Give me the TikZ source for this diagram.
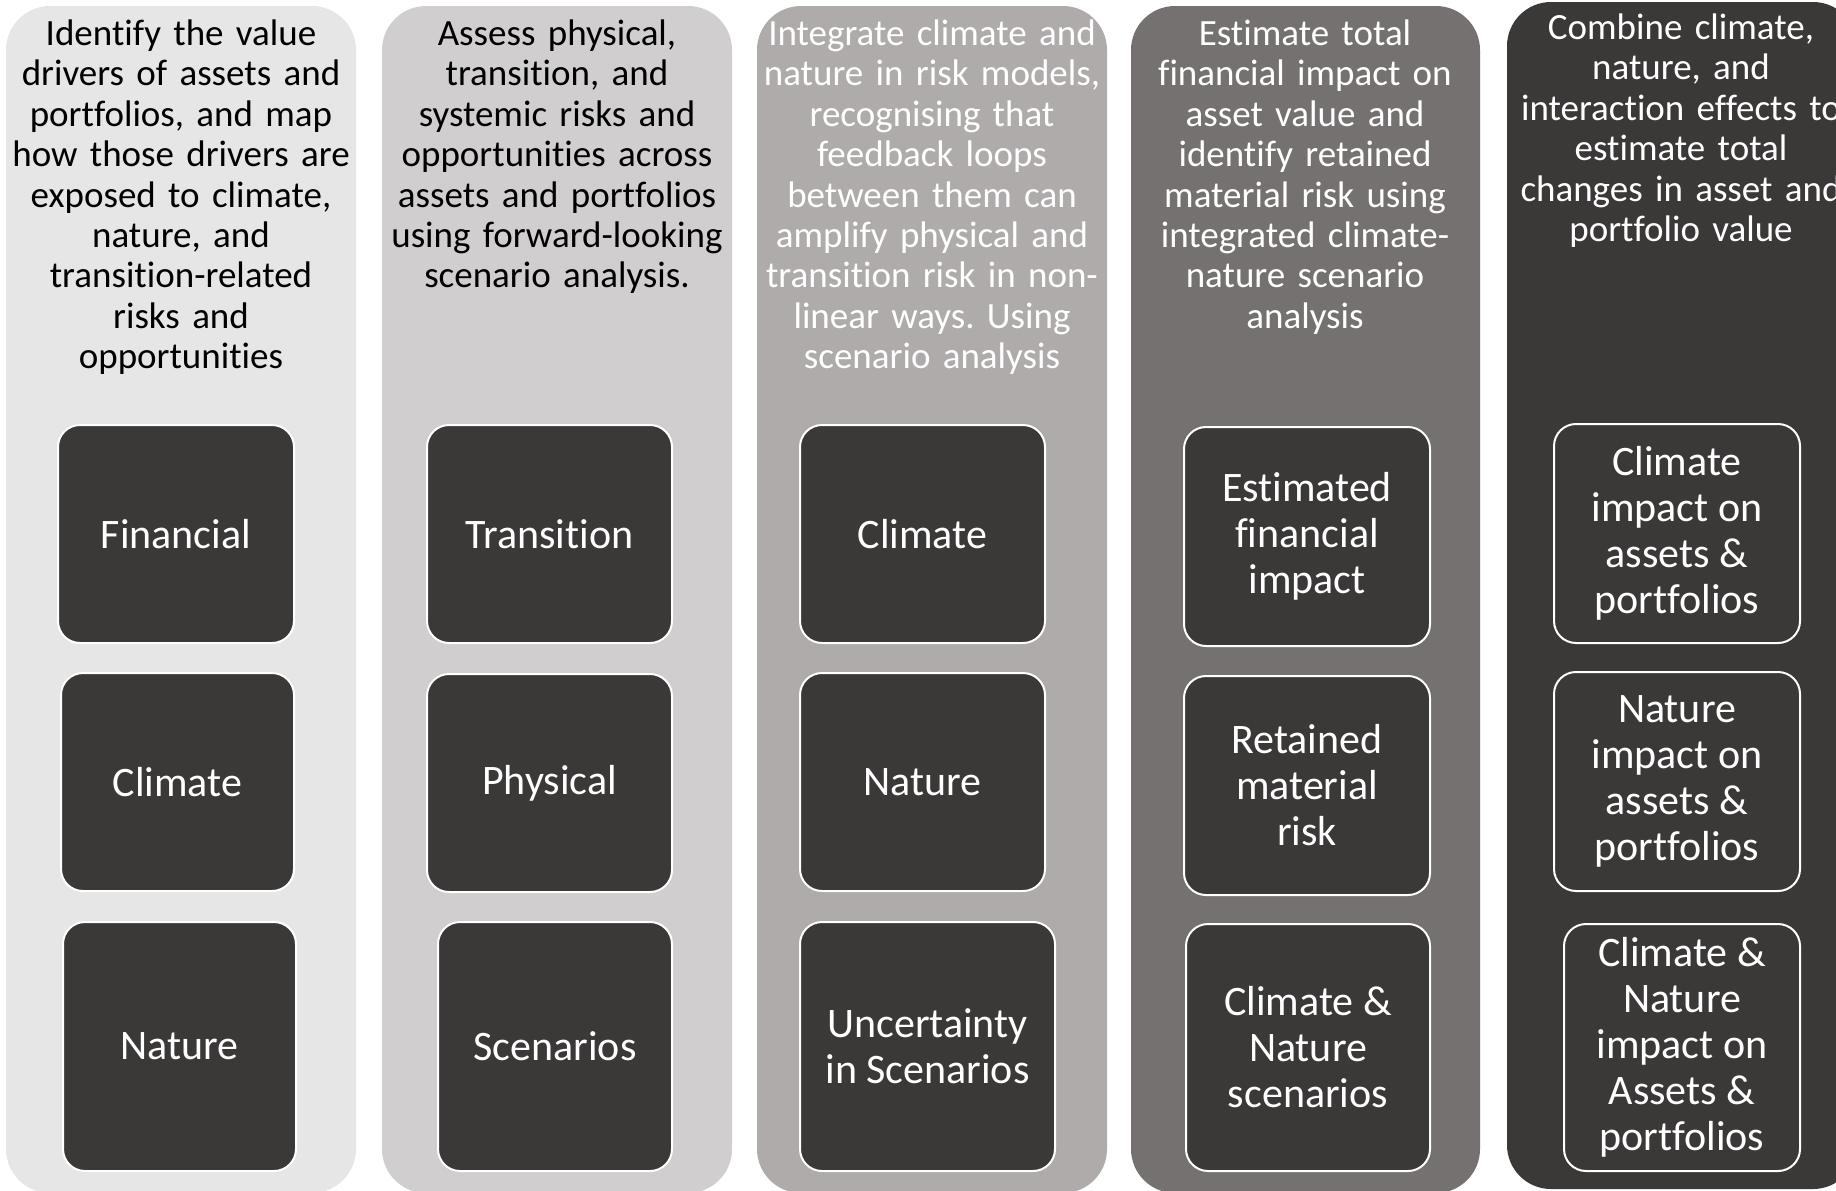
\documentclass[tikz,border=0pt]{standalone}
\usepackage{fontspec}
\setmainfont{Carlito}[Ligatures=NoCommon]
\frenchspacing
\usetikzlibrary{fit}
\definecolor{laneA}{HTML}{E7E6E6}
\definecolor{laneB}{HTML}{D0CECE}
\definecolor{laneC}{HTML}{AFABAB}
\definecolor{laneD}{HTML}{767171}
\definecolor{laneE}{HTML}{3B3838}
\definecolor{tilefill}{HTML}{3B3838}
\begin{document}
\begin{tikzpicture}[x=0.5pt,y=-0.5pt,
  lane/.style={rounded corners=22pt, inner sep=0pt, draw=none},
  head/.style={anchor=north, inner sep=0pt, align=center, text width=174pt,
    font=\fontsize{18.5}{20.2}\selectfont},
  tile/.style={rounded corners=11pt, fill=tilefill, draw=white, line width=1pt,
    inner sep=0pt, text=white, align=center, font=\fontsize{21}{23}\selectfont},
  std/.style={minimum width=122.5pt, minimum height=109pt}]
\useasboundingbox (0,0) rectangle (1836,1190);
\clip (0,0) rectangle (1836,1190);

% five stage lanes
\node[lane, fill=laneA, fit={(6,6) (356,1193)}] (lane1) {};
\node[lane, fill=laneB, fit={(382,6) (732,1193)}] (lane2) {};
\node[lane, fill=laneC, fit={(757,6) (1107,1193)}] (lane3) {};
\node[lane, fill=laneD, fit={(1131,6) (1480,1193)}] (lane4) {};
\node[lane, fill=laneE, fit={(1507,2) (1857,1189)}] (lane5) {};

% lane headings
\node[head, text=black] (h1) at (181,19.5) {Identify the value\\drivers of assets and\\portfolios, and map\\how those drivers are\\exposed to climate,\\nature, and\\transition-related\\risks and\\opportunities};
\node[head, text=black] (h2) at (557,19.5) {Assess physical,\\transition, and\\systemic risks and\\opportunities across\\assets and portfolios\\using forward-looking\\scenario analysis.};
\node[head, text=white] (h3) at (932,19.5) {Integrate climate and\\nature in risk models,\\recognising that\\feedback loops\\between them can\\amplify physical and\\transition risk in non-\\linear ways. Using\\scenario analysis};
\node[head, text=white] (h4) at (1305,19.5) {Estimate total\\financial impact on\\asset value and\\identify retained\\material risk using\\integrated climate-\\nature scenario\\analysis};
\node[head, text=white] (h5) at (1681,13.5) {Combine climate,\\nature, and\\interaction effects to\\estimate total\\changes in asset and\\portfolio value};

% stage 1 tiles
\node[tile, minimum width=118pt, minimum height=109pt] (t11) at (176,534) {Financial};
\node[tile, minimum width=116.5pt, minimum height=109pt] (t12) at (177.5,782) {Climate};
\node[tile, minimum width=116.5pt, minimum height=124.5pt] (t13) at (179.5,1046.5) {Nature};
% stage 2 tiles
\node[tile, std] (t21) at (549.5,534) {Transition};
\node[tile, std] (t22) at (549.5,783) {Physical};
\node[tile, minimum width=117pt, minimum height=124.5pt] (t23) at (555,1046.5) {Scenarios};
% stage 3 tiles
\node[tile, std] (t31) at (922.5,534) {Climate};
\node[tile, std] (t32) at (922.5,782) {Nature};
\node[tile, minimum width=127.5pt, minimum height=124.5pt] (t33) at (927.5,1046.5) {Uncertainty\\in Scenarios};
% stage 4 tiles
\node[tile, minimum width=123pt, minimum height=109.5pt] (t41) at (1307,536.5) {Estimated\\financial\\impact};
\node[tile, minimum width=123pt, minimum height=109.5pt] (t42) at (1307,785.5) {Retained\\material\\risk};
\node[tile, minimum width=122pt, minimum height=123.5pt] (t43) at (1308,1047.5) {Climate \&\\Nature\\scenarios};
% stage 5 tiles
\node[tile, minimum width=123pt, minimum height=109.5pt] (t51) at (1677,533.5) {Climate\\impact on\\assets \&\\portfolios};
\node[tile, minimum width=123pt, minimum height=109.5pt] (t52) at (1677,781.5) {Nature\\impact on\\assets \&\\portfolios};
\node[tile, minimum width=118pt, minimum height=123.5pt] (t53) at (1682,1047.5) {Climate \&\\Nature\\impact on\\Assets \&\\portfolios};
\end{tikzpicture}
\end{document}
